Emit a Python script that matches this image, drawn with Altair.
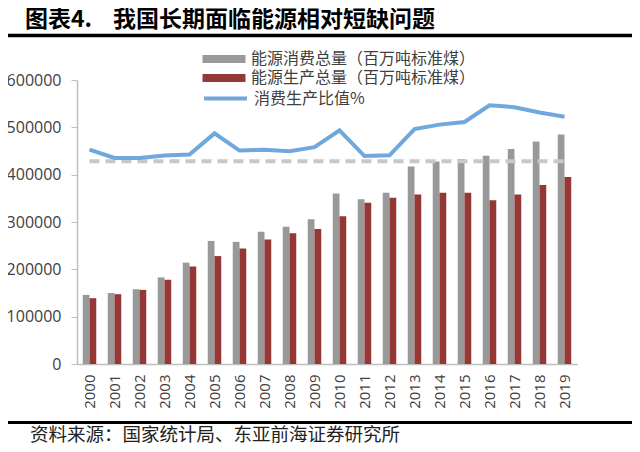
import altair as alt
import pandas as pd

years = ["2000", "2001", "2002", "2003", "2004", "2005", "2006", "2007", "2008", "2009",
         "2010", "2011", "2012", "2013", "2014", "2015", "2016", "2017", "2018", "2019"]
consumption = [146000, 150000, 158000, 183000, 214000, 260000, 258000, 279500, 290000, 306000,
               360000, 348000, 362000, 417000, 428000, 433000, 440000, 454000, 470000, 485000]
production = [139000, 147500, 156600, 178000, 206000, 228000, 244000, 263000, 276000, 285000,
              312000, 340600, 351000, 358000, 362000, 362000, 346000, 358000, 378000, 395000]
ratio = [1.057, 1.016, 1.016, 1.028, 1.033, 1.137, 1.052, 1.056, 1.049, 1.069,
         1.152, 1.025, 1.029, 1.158, 1.180, 1.193, 1.275, 1.266, 1.240, 1.219]
ref_level = 1.0

series_names = ["能源消费总量（百万吨标准煤）", "能源生产总量（百万吨标准煤）"]
line_name = "消费生产比值%"
left_ticks = [0, 100000, 200000, 300000, 400000, 500000, 600000]
right_ticks = [0, 0.2, 0.4, 0.6, 0.8, 1.0, 1.2, 1.4]

title_a = "图表4."
title_b = "我国长期面临能源相对短缺问题"
source = "资料来源：国家统计局、东亚前海证券研究所"

CJK = "Noto Sans CJK SC"
NUM = "Open Sans"
LBL = "#404040"

bars_df = pd.DataFrame({
    "year": years * 2,
    "series": [series_names[0]] * len(years) + [series_names[1]] * len(years),
    "value": consumption + production,
})
line_df = pd.DataFrame({"year": years, "ratio": ratio, "series": [line_name] * len(years)})
ref_df = pd.DataFrame({"year": years, "level": [ref_level] * len(years)})
one = pd.DataFrame({"t": [0]})

# legend symbols: nominal size ~14.3px, drawn 43px wide (3x in each direction)
SYM_SIZE = 205
RECT_PATH = "M-3,-0.56H3V0.56H-3Z"
LINE_PATH = "M-3,0H3"

x_enc = alt.X("year:N", sort=years,
              scale=alt.Scale(domain=years, paddingInner=0.46, paddingOuter=0.23),
              axis=alt.Axis(title=None, labelAngle=-90, labelFont=NUM, labelFontSize=15,
                            labelColor=LBL, labelPadding=10, ticks=False,
                            domainColor="#bfbfbf", domainWidth=1.5))

bars = alt.Chart(bars_df).mark_bar().encode(
    x=x_enc,
    xOffset=alt.XOffset("series:N", scale=alt.Scale(domain=series_names, paddingInner=0, paddingOuter=0)),
    y=alt.Y("value:Q", scale=alt.Scale(domain=[0, 600000], nice=False),
            axis=alt.Axis(title=None, values=left_ticks, format="d", grid=False,
                          labelFont=NUM, labelFontSize=16, labelColor=LBL, labelPadding=10,
                          tickSize=6, tickColor="#bfbfbf", domainColor="#bfbfbf", domainWidth=1.5)),
    fill=alt.Fill("series:N", scale=alt.Scale(domain=series_names, range=["#999999", "#953735"]),
                  legend=alt.Legend(title=None, orient="none", legendX=139, legendY=-29,
                                    direction="vertical",
                                    symbolType=RECT_PATH, symbolSize=SYM_SIZE,
                                    symbolStrokeWidth=0, labelFont=CJK, labelFontSize=16,
                                    labelColor=LBL, labelOffset=19, labelLimit=0, rowPadding=3)),
)

dash = alt.Chart(ref_df).mark_line(strokeWidth=4, strokeDash=[10, 6], color="#c8c8c8").encode(
    x=alt.X("year:N", sort=years),
    y=alt.Y("level:Q", scale=alt.Scale(domain=[0, 1.4], nice=False), axis=None),
)

line = alt.Chart(line_df).mark_line(strokeWidth=4).encode(
    x=alt.X("year:N", sort=years),
    y=alt.Y("ratio:Q", scale=alt.Scale(domain=[0, 1.4], nice=False),
            axis=alt.Axis(title=None, orient="right", values=right_ticks, format=".0%", grid=False,
                          labelFont=NUM, labelFontSize=16, labelColor=LBL, labelPadding=16,
                          ticks=False, domain=False)),
    stroke=alt.Stroke("series:N", scale=alt.Scale(domain=[line_name], range=["#6fa8dc"]),
                      legend=alt.Legend(title=None, orient="none", legendX=139, legendY=9,
                                        symbolType=LINE_PATH, symbolSize=SYM_SIZE,
                                        symbolStrokeWidth=4, symbolFillColor="transparent",
                                        labelFont=CJK, labelFontSize=16, labelColor=LBL,
                                        labelOffset=19, labelLimit=0)),
)

t1 = alt.Chart(one).mark_text(text=title_a, font=CJK, fontSize=23, fontWeight="bold",
                              align="left", baseline="middle", color="black").encode(
    x=alt.value(-52), y=alt.value(-60))
t2 = alt.Chart(one).mark_text(text=title_b, font=CJK, fontSize=23, fontWeight="bold",
                              align="left", baseline="middle", color="black").encode(
    x=alt.value(36), y=alt.value(-60))
rule_top = alt.Chart(one).mark_rule(color="black", strokeWidth=3.5).encode(
    x=alt.value(-77), x2=alt.value(563), y=alt.value(-44.5))
rule_bot = alt.Chart(one).mark_rule(color="black", strokeWidth=3).encode(
    x=alt.value(-77), x2=alt.value(563), y=alt.value(342.5))
src = alt.Chart(one).mark_text(text=source, font=CJK, fontSize=18.5, align="left",
                               baseline="middle", color="#222222").encode(
    x=alt.value(-47), y=alt.value(354.5))

right = alt.layer(dash, line)
chart = alt.layer(bars, right, t1, t2, rule_top, rule_bot, src).resolve_scale(
    y="independent", fill="independent", stroke="independent"
).properties(
    width=500, height=284,
    autosize=alt.AutoSizeParams(type="none"),
    padding={"left": 69, "top": 72, "right": 55, "bottom": 80},
).configure_view(stroke=None)

chart.save("out.html", embed_options={"renderer": "svg", "actions": False})
